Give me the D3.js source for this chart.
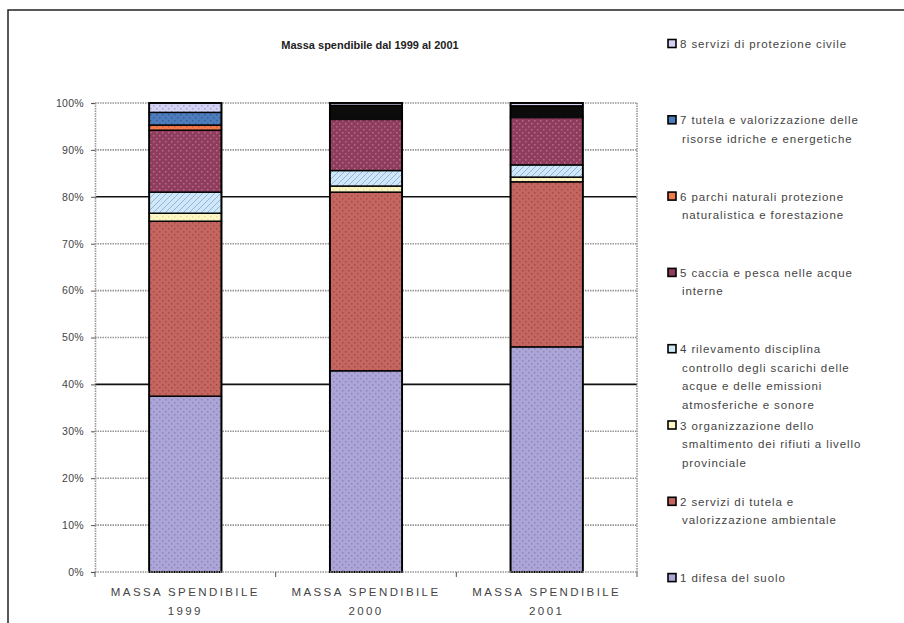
<!DOCTYPE html>
<html>
<head>
<meta charset="utf-8">
<script src="https://cdn.jsdelivr.net/npm/d3@7"></script>
<style>
  html, body { margin: 0; padding: 0; background: #fff; }
  svg { display: block; font-family: "Liberation Sans", Arial, sans-serif; }
</style>
</head>
<body>
<svg id="chart" width="904" height="623"></svg>
<script>
// Categories (two-line axis labels)
const categories = ["MASSA SPENDIBILE 1999", "MASSA SPENDIBILE 2000", "MASSA SPENDIBILE 2001"];
const categoryLines = [["MASSA SPENDIBILE", "1999"], ["MASSA SPENDIBILE", "2000"], ["MASSA SPENDIBILE", "2001"]];

// Series, bottom to top of each column (share of spending, %)
const seriesKeys = ["s1", "s2", "s3", "s4", "s5", "s6", "s7", "s8"];
const s1 = [37.5, 42.9, 48.0]; // 1 difesa del suolo
const s2 = [37.3, 38.1, 35.2]; // 2 servizi di tutela e valorizzazione ambientale
const s3 = [1.7, 1.3, 1.0];    // 3 organizzazione dello smaltimento dei rifiuti
const s4 = [4.5, 3.3, 2.6];    // 4 rilevamento disciplina controllo ...
const s5 = [13.2, 10.9, 10.1]; // 5 caccia e pesca nelle acque interne
const s6 = [1.1, 0.4, 0.3];    // 6 parchi naturali ...
const s7 = [2.7, 2.6, 2.2];    // 7 tutela e valorizzazione delle risorse idriche ...
const s8 = [2.0, 0.5, 0.6];    // 8 servizi di protezione civile

const seriesLabels = [
  ["1 difesa del suolo"],
  ["2 servizi di tutela e", "valorizzazione ambientale"],
  ["3 organizzazione dello", "smaltimento dei rifiuti a livello", "provinciale"],
  ["4 rilevamento disciplina", "controllo degli scarichi delle", "acque e delle emissioni", "atmosferiche e sonore"],
  ["5 caccia e pesca nelle acque", "interne"],
  ["6 parchi naturali protezione", "naturalistica e forestazione"],
  ["7 tutela e valorizzazione delle", "risorse idriche e energetiche"],
  ["8 servizi di protezione civile"]
];

const yTicks = [0, 10, 20, 30, 40, 50, 60, 70, 80, 90, 100];
const yTickLabels = ["0%", "10%", "20%", "30%", "40%", "50%", "60%", "70%", "80%", "90%", "100%"];

// Pattern fills: background colour + dot colour for each series
const fills = [
  { bg: "#aba6d6", fg: "#8c86bd" },
  { bg: "#c4665f", fg: "#a44a48" },
  { bg: "#fbf6c4", fg: "#e8dfa0" },
  { bg: "#cfe7f6", fg: "#93b4de" },
  { bg: "#8f3d5e", fg: "#b86a86" },
  { bg: "#f07a4c", fg: "#d85c34" },
  { bg: "#4d7cbc", fg: "#3a5f98" },
  { bg: "#d4d2f2", fg: "#a8a4d4" }
];

const rows = categories.map((c, i) => ({
  cat: c, s1: s1[i], s2: s2[i], s3: s3[i], s4: s4[i], s5: s5[i], s6: s6[i], s7: s7[i], s8: s8[i]
}));

const svg = d3.select("#chart");
const defs = svg.append("defs");

fills.forEach((f, i) => {
  const p = defs.append("pattern")
    .attr("id", "pat" + i)
    .attr("patternUnits", "userSpaceOnUse")
    .attr("width", 6).attr("height", 6);
  p.append("rect").attr("width", 6).attr("height", 6).attr("fill", f.bg);
  if (i === 3) {
    p.append("path").attr("d", "M0,6 L6,0").attr("stroke", f.fg).attr("stroke-width", 1);
  } else {
    p.append("rect").attr("x", 0).attr("y", 0).attr("width", 1.5).attr("height", 1.5).attr("fill", f.fg);
    p.append("rect").attr("x", 3).attr("y", 3).attr("width", 1.5).attr("height", 1.5).attr("fill", f.fg);
  }
});

// The 2000 and 2001 columns print their thin top segments (6 and 7) in near-black
const darkCells = { "5-1": true, "5-2": true, "6-1": true, "6-2": true };

// Outer chart frame
svg.append("rect")
  .attr("x", 8).attr("y", 10).attr("width", 1000).attr("height", 1000)
  .attr("fill", "none").attr("stroke", "#222").attr("stroke-width", 1.5);

const plot = { left: 95, right: 637, top: 103, bottom: 572 };

const x = d3.scaleBand().domain(categories).range([plot.left, plot.right]).paddingInner(0.6).paddingOuter(0.3);
const xOuter = d3.scaleBand().domain(categories).range([plot.left, plot.right]);
const y = d3.scaleLinear().domain([0, 100]).range([plot.bottom, plot.top]);

// Gridlines
const grid = svg.append("g");
yTicks.forEach(t => {
  const solid = (t === 40 || t === 80);
  if (t === 0) return;
  grid.append("line")
    .attr("x1", plot.left).attr("x2", plot.right)
    .attr("y1", y(t)).attr("y2", y(t))
    .attr("stroke", solid ? "#111" : "#9a9494")
    .attr("stroke-width", 1.6)
    .attr("stroke-dasharray", solid ? null : "1.5,1");
});

// Plot area right border
svg.append("line")
  .attr("x1", plot.right).attr("x2", plot.right)
  .attr("y1", plot.top).attr("y2", plot.bottom)
  .attr("stroke", "#9a9494").attr("stroke-width", 1.6).attr("stroke-dasharray", "1.5,1");

// Stacked columns
const stack = d3.stack().keys(seriesKeys).offset(d3.stackOffsetExpand);
const stacked = stack(rows);

const bars = svg.append("g");
stacked.forEach((layer, si) => {
  layer.forEach((d, ci) => {
    const dark = darkCells[si + "-" + ci];
    bars.append("rect")
      .attr("x", x(d.data.cat))
      .attr("width", x.bandwidth())
      .attr("y", y(d[1] * 100))
      .attr("height", Math.max(0, y(d[0] * 100) - y(d[1] * 100)))
      .attr("fill", dark ? "#0c0c0c" : "url(#pat" + si + ")")
      .attr("stroke", dark ? "#0c0c0c" : "#000")
      .attr("stroke-width", 1.4);
  });
  // side borders of each column
});
categories.forEach(c => {
  bars.append("rect")
    .attr("x", x(c)).attr("y", plot.top)
    .attr("width", x.bandwidth()).attr("height", plot.bottom - plot.top)
    .attr("fill", "none").attr("stroke", "#000").attr("stroke-width", 1.8);
});

// Y axis
const yAxis = d3.axisLeft(y)
  .tickValues(yTicks)
  .tickFormat((d, i) => yTickLabels[i])
  .tickSize(4)
  .tickPadding(7);
const yg = svg.append("g").attr("transform", `translate(${plot.left},0)`).call(yAxis);
yg.select(".domain").attr("stroke", "#9a9494").attr("stroke-width", 1.6).attr("stroke-dasharray", "1.5,1");
yg.selectAll(".tick line").attr("stroke", "#555");
yg.selectAll(".tick text").attr("fill", "#444").attr("font-size", 10.5).attr("letter-spacing", 0.3);

// X axis
const xg = svg.append("g").attr("transform", `translate(0,${plot.bottom})`);
xg.append("line")
  .attr("x1", plot.left).attr("x2", plot.right).attr("y1", 0).attr("y2", 0)
  .attr("stroke", "#9a9494").attr("stroke-width", 1.6).attr("stroke-dasharray", "1.5,1");
const boundaries = categories.map(c => xOuter(c)).concat([plot.right]);
boundaries.forEach(b => {
  xg.append("line").attr("x1", b).attr("x2", b).attr("y1", 0).attr("y2", 5)
    .attr("stroke", "#555").attr("stroke-width", 1);
});
categories.forEach((c, i) => {
  const cx = xOuter(c) + xOuter.bandwidth() / 2;
  const t = xg.append("text")
    .attr("text-anchor", "middle")
    .attr("fill", "#444")
    .attr("font-size", 11.5)
    .attr("letter-spacing", 2.4);
  categoryLines[i].forEach((line, li) => {
    t.append("tspan").attr("x", cx).attr("y", 24 + li * 19).text(line);
  });
});

// Title
svg.append("text")
  .attr("x", 370).attr("y", 49)
  .attr("text-anchor", "middle")
  .attr("font-size", 11)
  .attr("font-weight", "bold")
  .attr("fill", "#222")
  .text("Massa spendibile dal 1999 al 2001");

// Legend (top entry is series 8, bottom is series 1)
const legend = svg.append("g");
const legendOrder = d3.range(seriesKeys.length).reverse();
legendOrder.forEach((si, k) => {
  const top = 44 + k * 76.3;
  legend.append("rect")
    .attr("x", 668).attr("y", top - 4.5)
    .attr("width", 8).attr("height", 8)
    .attr("fill", fills[si].bg)
    .attr("stroke", "#000").attr("stroke-width", 1.6);
  const t = legend.append("text").attr("font-size", 11.5).attr("letter-spacing", 0.9).attr("fill", "#444");
  seriesLabels[si].forEach((line, li) => {
    t.append("tspan")
      .attr("x", li === 0 ? 680 : 682)
      .attr("y", top + 4 + li * 18.5)
      .text(line);
  });
});
</script>
</body>
</html>
